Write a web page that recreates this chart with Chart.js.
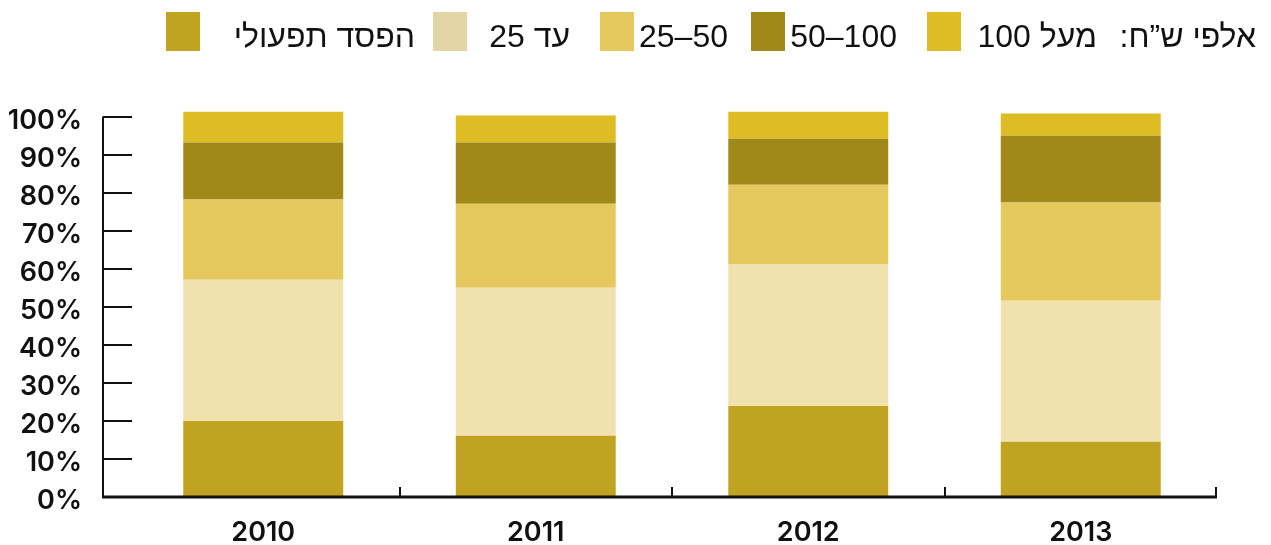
<!DOCTYPE html>
<html>
<head>
<meta charset="utf-8">
<script src="https://cdn.jsdelivr.net/npm/chart.js@4"></script>
<style>
  body { margin: 0; background: #fff; }
  #wrap { position: relative; width: 1271px; height: 545px; }
  #legend { position: absolute; left: 0; top: 0; width: 1271px; height: 70px; }
  .lg-box { position: absolute; top: 12px; width: 34px; height: 39px; }
  .lg-txt { position: absolute; top: 18px; line-height: 32px; font: 32px "Liberation Sans", Arial, sans-serif; color: #111; white-space: nowrap; }
</style>
</head>
<body>
<div id="wrap">
  <canvas id="myChart"></canvas>
  <div id="legend"></div>
</div>
<script>
// years on the x axis
var years = ['2010', '2011', '2012', '2013'];

// share of companies by operating profit (thousand NIS), percent
var operatingLoss = [20.0, 16.1, 23.9, 14.5];
var upTo25 = [37.1, 38.9, 37.2, 37.1];
var from25to50 = [21.1, 22.1, 21.0, 25.8];
var from50to100 = [15.0, 16.1, 12.1, 17.6];
var over100 = [8.1, 7.1, 7.1, 5.8];

var seriesNames = ['הפסד תפעולי', 'עד 25', '25–50', '50–100', 'מעל 100'];
var unitLabel = 'אלפי ש”ח:';
var yTickValues = [0, 10, 20, 30, 40, 50, 60, 70, 80, 90, 100];

var barColors = ['#C0A321', '#F1E1AF', '#E5C85E', '#A08819', '#DEBC24'];
var legendColors = ['#C0A321', '#E3D5A5', '#E5C85E', '#A08819', '#DEBC24'];

// legend layout (pixels)
var boxLeft = [166, 433, 600, 751, 927];
var textRight = [415, 570, 728, 897, 1097];
var unitRight = 1256;

function buildLegend() {
  var lg = document.getElementById('legend');
  seriesNames.forEach(function(name, i) {
    var b = document.createElement('div');
    b.className = 'lg-box';
    b.style.left = boxLeft[i] + 'px';
    b.style.background = legendColors[i];
    lg.appendChild(b);
    var t = document.createElement('div');
    t.className = 'lg-txt';
    t.dir = 'auto';
    t.style.right = (1271 - textRight[i]) + 'px';
    t.textContent = name;
    lg.appendChild(t);
  });
  var u = document.createElement('div');
  u.className = 'lg-txt';
  u.dir = 'rtl';
  u.style.right = (1271 - unitRight) + 'px';
  u.textContent = unitLabel;
  lg.appendChild(u);
}

// draws the axis lines with inward ticks like the original
var axisPlugin = {
  id: 'axisLines',
  afterDatasetsDraw: function(chart) {
    var ctx = chart.ctx;
    var x = chart.scales.x, y = chart.scales.y;
    var axisX = 103;
    var bottom = y.getPixelForValue(0);
    ctx.save();
    ctx.strokeStyle = '#111';
    ctx.lineWidth = 2;
    ctx.beginPath();
    ctx.moveTo(axisX, y.getPixelForValue(100));
    ctx.lineTo(axisX, bottom);
    yTickValues.forEach(function(v) {
      var py = Math.round(y.getPixelForValue(v));
      ctx.moveTo(axisX, py);
      ctx.lineTo(axisX + 29, py);
    });
    ctx.stroke();
    ctx.lineWidth = 3;
    ctx.beginPath();
    ctx.moveTo(axisX - 1, bottom);
    ctx.lineTo(chart.chartArea.right, bottom);
    ctx.stroke();
    ctx.lineWidth = 2;
    ctx.beginPath();
    for (var i = 0; i < years.length; i++) {
      var px = i < years.length - 1
        ? (x.getPixelForValue(i) + x.getPixelForValue(i + 1)) / 2
        : chart.chartArea.right - 1;
      px = Math.round(px);
      ctx.moveTo(px, bottom - 10);
      ctx.lineTo(px, bottom);
    }
    ctx.stroke();
    ctx.restore();
  }
};

var tickFont = { family: 'Inter', size: 27, weight: '600' };

var ctx = document.getElementById('myChart').getContext('2d');
var myChart = new Chart(ctx, {
  type: 'bar',
  data: {
    labels: years,
    datasets: [operatingLoss, upTo25, from25to50, from50to100, over100].map(function(d, i) {
      return {
        label: seriesNames[i],
        data: d,
        backgroundColor: barColors[i],
        borderWidth: 0,
        barPercentage: 0.587,
        categoryPercentage: 1
      };
    })
  },
  options: {
    responsive: true,
    maintainAspectRatio: false,
    animation: false,
    layout: { padding: { top: 109, right: 54, left: 0, bottom: 0 } },
    plugins: {
      legend: { display: false },
      tooltip: { enabled: false }
    },
    scales: {
      x: {
        stacked: true,
        grid: { display: false },
        border: { display: false },
        ticks: { color: '#111', font: tickFont, padding: 12 },
        afterFit: function(s) { s.height = 48; }
      },
      y: {
        stacked: true,
        min: 0,
        max: 102,
        grid: { display: false },
        border: { display: false },
        ticks: {
          stepSize: 10,
          includeBounds: false,
          color: '#111',
          font: tickFont,
          padding: 37,
          labelOffset: 4,
          callback: function(v) { return v % 10 === 0 ? v + '%' : ''; }
        },
        afterFit: function(s) {
          s.width = 127;
          s.paddingTop = 0;
          s.paddingBottom = 0;
        }
      }
    }
  },
  plugins: [axisPlugin]
});

buildLegend();
</script>
</body>
</html>
